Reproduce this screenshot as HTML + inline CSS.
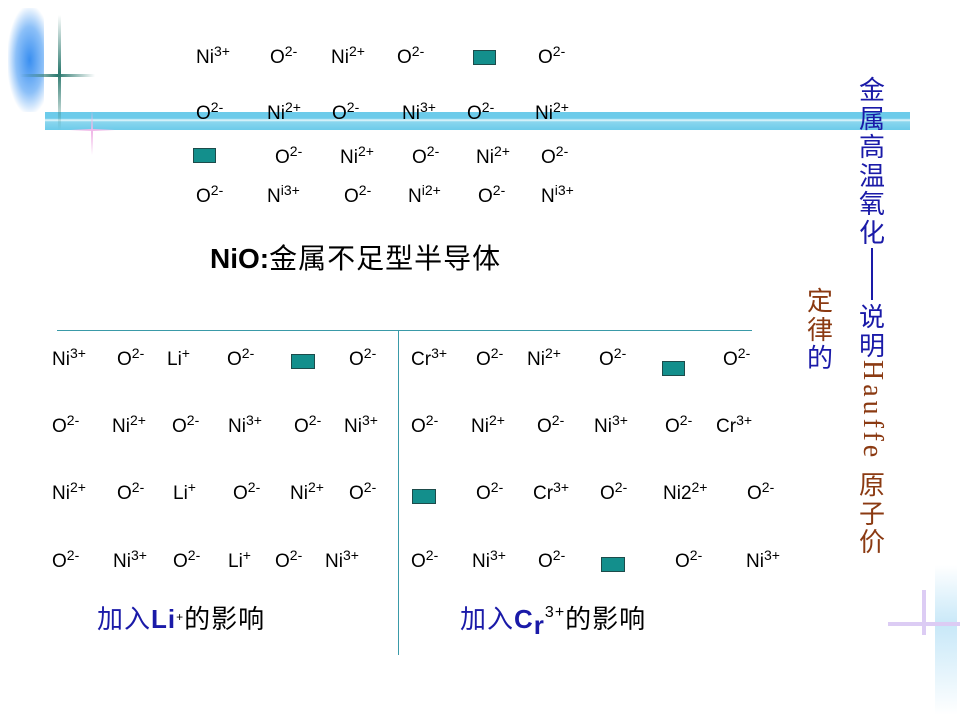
<!DOCTYPE html>
<html><head><meta charset="utf-8"><style>
body{margin:0;width:960px;height:720px;position:relative;background:#fff;overflow:hidden;font-family:"Liberation Sans","Noto Sans CJK SC",sans-serif;}
.t{position:absolute;font-size:19px;line-height:20px;color:#000;white-space:nowrap;}
.t sup{font-size:14px;vertical-align:top;position:relative;top:-4px;line-height:14px;}
.q{position:absolute;width:23px;height:15px;background:#138f8c;border:1px solid #1d4b4a;box-sizing:border-box;}
.v{position:absolute;font-family:"Noto Sans CJK SC",sans-serif;font-size:26px;line-height:28.5px;width:28px;text-align:center;}
</style></head><body>
<!-- decorations -->
<div style="position:absolute;left:8px;top:8px;width:36px;height:104px;background:radial-gradient(ellipse at 60% 50%,#3a8ff0 0%,#8cc0f8 45%,rgba(255,255,255,0) 75%);"></div>
<div style="position:absolute;left:45px;top:112px;width:865px;height:18px;background:linear-gradient(#6ccbea 0,#6ccbea 35%,#e8f8fc 45%,#8ad6ee 55%,#6ccbea 100%);"></div>
<div style="position:absolute;left:58px;top:15px;width:3px;height:115px;background:linear-gradient(rgba(255,255,255,0),#2e7a70,rgba(255,255,255,0));"></div>
<div style="position:absolute;left:20px;top:74px;width:75px;height:3px;background:linear-gradient(90deg,rgba(255,255,255,0),#2e7a70,rgba(255,255,255,0));"></div>
<div style="position:absolute;left:91px;top:110px;width:2px;height:45px;background:linear-gradient(rgba(255,255,255,0),#f0b8e8,rgba(255,255,255,0));"></div>
<div style="position:absolute;left:70px;top:129px;width:45px;height:2px;background:linear-gradient(90deg,rgba(255,255,255,0),#f0b8e8,rgba(255,255,255,0));"></div>
<div style="position:absolute;left:935px;top:565px;width:22px;height:150px;background:linear-gradient(rgba(255,255,255,0),#c8e8f8 40%,rgba(255,255,255,0));"></div>
<div style="position:absolute;left:922px;top:590px;width:4px;height:45px;background:#dcccf4;"></div>
<div style="position:absolute;left:888px;top:622px;width:72px;height:4px;background:#dcccf4;"></div>

<!-- top block -->
<div class="t" style="left:196px;top:48px">Ni<sup>3+</sup></div>
<div class="t" style="left:270px;top:48px">O<sup>2-</sup></div>
<div class="t" style="left:331px;top:48px">Ni<sup>2+</sup></div>
<div class="t" style="left:397px;top:48px">O<sup>2-</sup></div>
<div class="q" style="left:473px;top:50px"></div>
<div class="t" style="left:538px;top:48px">O<sup>2-</sup></div>

<div class="t" style="left:196px;top:104px">O<sup>2-</sup></div>
<div class="t" style="left:267px;top:104px">Ni<sup>2+</sup></div>
<div class="t" style="left:332px;top:104px">O<sup>2-</sup></div>
<div class="t" style="left:402px;top:104px">Ni<sup>3+</sup></div>
<div class="t" style="left:467px;top:104px">O<sup>2-</sup></div>
<div class="t" style="left:535px;top:104px">Ni<sup>2+</sup></div>

<div class="q" style="left:193px;top:148px"></div>
<div class="t" style="left:275px;top:148px">O<sup>2-</sup></div>
<div class="t" style="left:340px;top:148px">Ni<sup>2+</sup></div>
<div class="t" style="left:412px;top:148px">O<sup>2-</sup></div>
<div class="t" style="left:476px;top:148px">Ni<sup>2+</sup></div>
<div class="t" style="left:541px;top:148px">O<sup>2-</sup></div>

<div class="t" style="left:196px;top:187px">O<sup>2-</sup></div>
<div class="t" style="left:267px;top:187px">N<sup>i3+</sup></div>
<div class="t" style="left:344px;top:187px">O<sup>2-</sup></div>
<div class="t" style="left:408px;top:187px">N<sup>i2+</sup></div>
<div class="t" style="left:478px;top:187px">O<sup>2-</sup></div>
<div class="t" style="left:541px;top:187px">N<sup>i3+</sup></div>

<div style="position:absolute;left:210px;top:242px;font-size:28px;line-height:34px;font-weight:bold;white-space:nowrap;">NiO:<span style="font-weight:normal;letter-spacing:1px">金属不足型半导体</span></div>

<!-- lines -->
<div style="position:absolute;left:57px;top:330px;width:695px;height:1px;background:#3a9aa8;"></div>
<div style="position:absolute;left:398px;top:330px;width:1px;height:325px;background:#3a9aa8;"></div>

<!-- lower left -->
<div class="t" style="left:52px;top:350px">Ni<sup>3+</sup></div>
<div class="t" style="left:117px;top:350px">O<sup>2-</sup></div>
<div class="t" style="left:167px;top:350px">Li<sup>+</sup></div>
<div class="t" style="left:227px;top:350px">O<sup>2-</sup></div>
<div class="q" style="left:291px;top:354px;width:24px"></div>
<div class="t" style="left:349px;top:350px">O<sup>2-</sup></div>

<div class="t" style="left:52px;top:417px">O<sup>2-</sup></div>
<div class="t" style="left:112px;top:417px">Ni<sup>2+</sup></div>
<div class="t" style="left:172px;top:417px">O<sup>2-</sup></div>
<div class="t" style="left:228px;top:417px">Ni<sup>3+</sup></div>
<div class="t" style="left:294px;top:417px">O<sup>2-</sup></div>
<div class="t" style="left:344px;top:417px">Ni<sup>3+</sup></div>

<div class="t" style="left:52px;top:484px">Ni<sup>2+</sup></div>
<div class="t" style="left:117px;top:484px">O<sup>2-</sup></div>
<div class="t" style="left:173px;top:484px">Li<sup>+</sup></div>
<div class="t" style="left:233px;top:484px">O<sup>2-</sup></div>
<div class="t" style="left:290px;top:484px">Ni<sup>2+</sup></div>
<div class="t" style="left:349px;top:484px">O<sup>2-</sup></div>

<div class="t" style="left:52px;top:552px">O<sup>2-</sup></div>
<div class="t" style="left:113px;top:552px">Ni<sup>3+</sup></div>
<div class="t" style="left:173px;top:552px">O<sup>2-</sup></div>
<div class="t" style="left:228px;top:552px">Li<sup>+</sup></div>
<div class="t" style="left:275px;top:552px">O<sup>2-</sup></div>
<div class="t" style="left:325px;top:552px">Ni<sup>3+</sup></div>

<!-- lower right -->
<div class="t" style="left:411px;top:350px">Cr<sup>3+</sup></div>
<div class="t" style="left:476px;top:350px">O<sup>2-</sup></div>
<div class="t" style="left:527px;top:350px">Ni<sup>2+</sup></div>
<div class="t" style="left:599px;top:350px">O<sup>2-</sup></div>
<div class="q" style="left:662px;top:361px"></div>
<div class="t" style="left:723px;top:350px">O<sup>2-</sup></div>

<div class="t" style="left:411px;top:417px">O<sup>2-</sup></div>
<div class="t" style="left:471px;top:417px">Ni<sup>2+</sup></div>
<div class="t" style="left:537px;top:417px">O<sup>2-</sup></div>
<div class="t" style="left:594px;top:417px">Ni<sup>3+</sup></div>
<div class="t" style="left:665px;top:417px">O<sup>2-</sup></div>
<div class="t" style="left:716px;top:417px">Cr<sup>3+</sup></div>

<div class="q" style="left:412px;top:489px;width:24px"></div>
<div class="t" style="left:476px;top:484px">O<sup>2-</sup></div>
<div class="t" style="left:533px;top:484px">Cr<sup>3+</sup></div>
<div class="t" style="left:600px;top:484px">O<sup>2-</sup></div>
<div class="t" style="left:663px;top:484px">Ni2<sup>2+</sup></div>
<div class="t" style="left:747px;top:484px">O<sup>2-</sup></div>

<div class="t" style="left:411px;top:552px">O<sup>2-</sup></div>
<div class="t" style="left:472px;top:552px">Ni<sup>3+</sup></div>
<div class="t" style="left:538px;top:552px">O<sup>2-</sup></div>
<div class="q" style="left:601px;top:557px;width:24px"></div>
<div class="t" style="left:675px;top:552px">O<sup>2-</sup></div>
<div class="t" style="left:746px;top:552px">Ni<sup>3+</sup></div>

<!-- captions -->
<div style="position:absolute;left:97px;top:603px;font-size:26px;line-height:32px;white-space:nowrap;letter-spacing:1px"><span style="color:#1a1aa8">加入<b>Li</b></span><sup style="font-size:12px;vertical-align:top;position:relative;top:-2px">+</sup>的影响</div>
<div style="position:absolute;left:460px;top:603px;font-size:26px;line-height:32px;white-space:nowrap;letter-spacing:1px"><span style="color:#1a1aa8">加入<b>C<span style="position:relative;top:6px">r</span></b></span><sup style="font-size:16px;vertical-align:top;position:relative;top:-6px">3+</sup>的影响</div>

<!-- vertical titles -->
<div class="v" style="left:858px;top:75px;color:#1a1aa8">金<br>属<br>高<br>温<br>氧<br>化</div>
<div style="position:absolute;left:871px;top:248px;width:2px;height:52px;background:#1a1aa8"></div>
<div class="v" style="left:858px;top:302px;color:#1a1aa8">说<br>明</div>
<div style="position:absolute;left:858px;top:360px;width:28px;height:110px;writing-mode:vertical-rl;font-family:'Liberation Serif',serif;font-size:28px;line-height:28px;color:#8b3a12;letter-spacing:4px;">Hauffe</div>
<div class="v" style="left:858px;top:470px;color:#8b3a12">原<br>子<br>价</div>
<div class="v" style="left:806px;top:286px;color:#8b3a12">定<br>律<br><span style="color:#1a1aa8">的</span></div>
</body></html>
